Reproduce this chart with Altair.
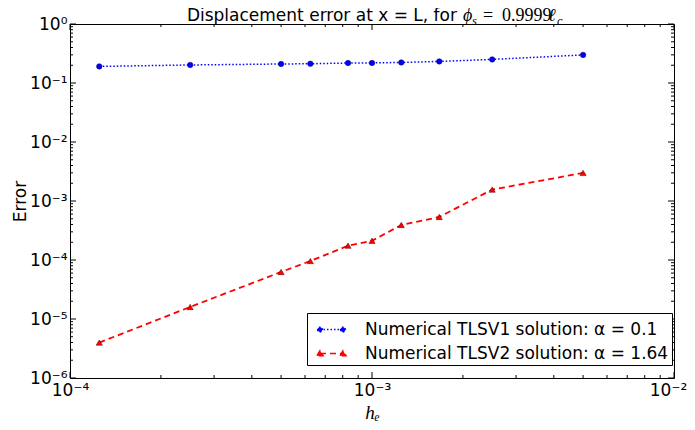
import altair as alt
import pandas as pd

# ---------------- data ----------------
h_e = [1.25e-4, 2.5e-4, 5e-4, 6.25e-4, 8.33e-4, 1e-3, 1.25e-3, 1.67e-3, 2.5e-3, 5e-3]
err_tlsv1 = [0.191, 0.202, 0.210, 0.212, 0.218, 0.219, 0.223, 0.232, 0.251, 0.299]
err_tlsv2 = [3.98e-6, 1.60e-5, 6.27e-5, 9.6e-5, 1.75e-4, 2.12e-4, 3.92e-4, 5.36e-4, 1.56e-3, 2.99e-3]
series_names = ["Numerical TLSV1 solution: α = 0.1", "Numerical TLSV2 solution: α = 1.64"]
series_colors = ["#0000ff", "#ff0000"]

x_major = [1e-4, 1e-3, 1e-2]
x_major_labels = ["10⁻⁴", "10⁻³", "10⁻²"]
y_major = [1e-6, 1e-5, 1e-4, 1e-3, 1e-2, 1e-1, 1e0]
y_major_labels = ["10⁻⁶", "10⁻⁵", "10⁻⁴", "10⁻³", "10⁻²", "10⁻¹", "10⁰"]
minor_mult = [2, 3, 4, 5, 6, 7, 8, 9]

title_main = "Displacement error at x = L, for"
title_phi = "ϕ"
title_sub_s = "s"
title_eq = "="
title_num = "0.9999"
title_ell = "ℓ"
title_sub_c = "c"

x_title = "hₑ"
y_title = "Error"

# ---------------- tables ----------------
df = pd.DataFrame({
    "h": h_e + h_e,
    "err": err_tlsv1 + err_tlsv2,
    "series": [series_names[0]] * len(h_e) + [series_names[1]] * len(h_e),
})
df1 = df[df.series == series_names[0]]
df2 = df[df.series == series_names[1]]

x_minor = [m * d for d in x_major[:-1] for m in minor_mult]
y_minor = [m * d for d in y_major[:-1] for m in minor_mult]
xmaj_df = pd.DataFrame({"v": x_major})
xmin_df = pd.DataFrame({"v": x_minor})
ymaj_df = pd.DataFrame({"v": y_major})
ymin_df = pd.DataFrame({"v": y_minor})

W, H = 604, 354


def label_expr(values, labels):
    expr = "'" + labels[-1] + "'"
    for v, lab in reversed(list(zip(values[:-1], labels[:-1]))):
        thr = v * 10 ** 0.5
        expr = f"datum.value < {thr:.4g} ? '{lab}' : ({expr})"
    return expr


xscale = alt.Scale(type="log", domain=[1e-4, 1e-2], nice=False)
yscale = alt.Scale(type="log", domain=[1e-6, 1], nice=False)

x_axis = alt.Axis(values=x_major, labelExpr=label_expr(x_major, x_major_labels),
                  ticks=False, domain=False, grid=False, labelFont="DejaVu Sans",
                  labelFontSize=17, labelColor="black", labelPadding=4,
                  labelFlush=False, labelOverlap=False,
                  labelOffset={"condition": {"test": "datum.value > 0.005", "value": -6}, "value": 0},
                  title=x_title, titleFont="Liberation Serif", titleFontStyle="italic",
                  titleFontWeight="normal", titleFontSize=19, titleColor="black",
                  titlePadding=5)
y_axis = alt.Axis(values=y_major, labelExpr=label_expr(y_major, y_major_labels),
                  ticks=False, domain=False, grid=False, labelFont="DejaVu Sans",
                  labelFontSize=17, labelColor="black", labelPadding=3,
                  labelFlush=False, labelOverlap=False,
                  title=y_title, titleFont="DejaVu Sans", titleFontWeight="normal",
                  titleFontSize=17, titleColor="black", titlePadding=0)

X = alt.X("h:Q", scale=xscale, axis=x_axis)
Y = alt.Y("err:Q", scale=yscale, axis=y_axis)

# ---------------- data marks ----------------
line1 = alt.Chart(df1).mark_line(color=series_colors[0], strokeWidth=1.5,
                                  strokeDash=[1.5, 2]).encode(x=X, y=Y)
line2 = alt.Chart(df2).mark_line(color=series_colors[1], strokeWidth=1.8,
                                  strokeDash=[6, 4]).encode(x=X, y=Y)
pts1 = alt.Chart(df1).mark_point(shape="circle", filled=True, fill=series_colors[0],
                                  stroke="#000060", strokeWidth=0.5, size=30,
                                  opacity=1).encode(x=X, y=Y)
pts2 = alt.Chart(df2).mark_point(shape="triangle-up", filled=True, fill=series_colors[1],
                                  stroke="#500000", strokeWidth=0.5, size=38,
                                  opacity=1).encode(x=X, y=Y)

# ---------------- legend (from an invisible layer) ----------------
c = 0.92
r = 0.19
path_circle = (f"M{-c},0L{c},0"
               f"M{-c - r},0a{r},{r} 0 1,0 {2 * r},0a{r},{r} 0 1,0 {-2 * r},0"
               f"M{c - r},0a{r},{r} 0 1,0 {2 * r},0a{r},{r} 0 1,0 {-2 * r},0")
tw, th1, th2 = 0.24, 0.17, 0.23
path_tri = (f"M{-c},0L{c},0"
            f"M{-c - tw},{th1}L{-c},{-th2}L{-c + tw},{th1}Z"
            f"M{c - tw},{th1}L{c},{-th2}L{c + tw},{th1}Z")

leg = alt.Legend(title=None, orient="none", legendX=237, legendY=289,
                 symbolSize=625, symbolStrokeWidth=1.5, symbolOpacity=1,
                 labelFont="DejaVu Sans", labelFontSize=17, labelColor="black",
                 padding=3, strokeColor="black", fillColor="white",
                 symbolOffset=8, labelOffset=20, rowPadding=2, labelLimit=500)
color_scale = alt.Scale(domain=series_names, range=series_colors)
legend_layer = alt.Chart(df).mark_point(opacity=0, filled=True, size=625).encode(
    x=X, y=Y,
    fill=alt.Fill("series:N", scale=color_scale, legend=leg),
    stroke=alt.Stroke("series:N", scale=color_scale, legend=leg),
    shape=alt.Shape("series:N", scale=alt.Scale(domain=series_names, range=[path_circle, path_tri]), legend=leg),
    strokeDash=alt.StrokeDash("series:N", scale=alt.Scale(domain=series_names, range=[[1.5, 2], [6, 4]]), legend=leg),
)

# ---------------- inward ticks on all four sides ----------------
MAJ, MIN = 6, 3
XT = alt.X("v:Q", scale=xscale, axis=x_axis)
YT = alt.Y("v:Q", scale=yscale, axis=y_axis)
tick_style = dict(color="black", strokeWidth=1)
ticks = []
for d, L in ((xmaj_df, MAJ), (xmin_df, MIN)):
    ticks.append(alt.Chart(d).mark_rule(**tick_style).encode(x=XT, y=alt.value(H), y2=alt.value(H - L)))
    ticks.append(alt.Chart(d).mark_rule(**tick_style).encode(x=XT, y=alt.value(0), y2=alt.value(L)))
for d, L in ((ymaj_df, MAJ), (ymin_df, MIN)):
    ticks.append(alt.Chart(d).mark_rule(**tick_style).encode(y=YT, x=alt.value(0), x2=alt.value(L)))
    ticks.append(alt.Chart(d).mark_rule(**tick_style).encode(y=YT, x=alt.value(W), x2=alt.value(W - L)))

# ---------------- title (sans text + math part in serif) ----------------
def txt(s, x, y, font, size, style="normal", align="left"):
    return alt.Chart(pd.DataFrame({"t": [s]})).mark_text(
        align=align, baseline="alphabetic", font=font, fontSize=size,
        fontStyle=style, color="black").encode(x=alt.value(x), y=alt.value(y), text="t:N")

TY = -3
title_layers = [
    txt(title_main, 387, TY, "DejaVu Sans", 17, align="right"),
    txt(title_phi, 393, TY, "Liberation Serif", 18, "italic"),
    txt(title_sub_s, 402, TY + 3.5, "Liberation Serif", 12.5, "italic"),
    txt(title_eq, 413, TY, "Liberation Serif", 18),
    txt(title_num, 432, TY, "Liberation Serif", 18),
    txt(title_ell, 478, TY, "Liberation Serif", 18, "italic"),
    txt(title_sub_c, 487, TY + 3.5, "Liberation Serif", 12.5, "italic"),
]

chart = alt.layer(
    *ticks, line1, line2, pts1, pts2, legend_layer, *title_layers
).properties(
    width=W, height=H,
    autosize=alt.AutoSizeParams(type="none"),
    padding={"left": 62, "top": 16, "right": 13, "bottom": 44},
    background="white",
).configure_view(stroke="black", strokeWidth=1)

chart.save("out.html", embed_options={"renderer": "svg", "actions": False})
